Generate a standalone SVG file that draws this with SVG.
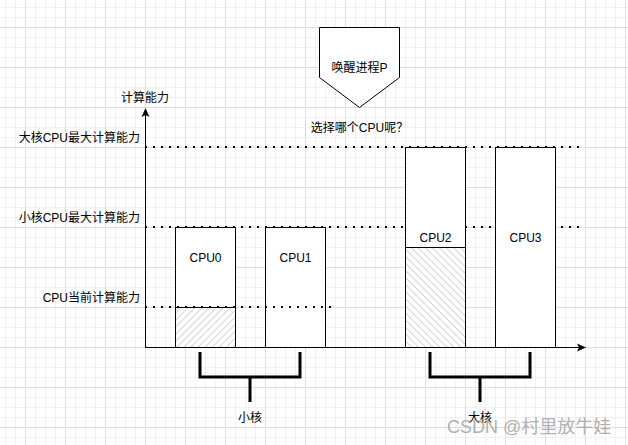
<svg xmlns="http://www.w3.org/2000/svg" width="628" height="445" viewBox="0 0 628 445">
<style>
text{font-family:"Liberation Sans","Noto Sans CJK SC",sans-serif;font-size:12px;fill:#000}
.box{fill:#fff;stroke:#000;stroke-width:1}
.dot{stroke:#000;stroke-width:2;stroke-dasharray:2 6;fill:none}
.ax{stroke:#000;stroke-width:1;fill:none}
.br{stroke:#000;stroke-width:3;fill:none}
.mid{text-anchor:middle}
.end{text-anchor:end}
</style>
<defs>
<pattern id="grid" patternUnits="userSpaceOnUse" x="-15" y="-13" width="40" height="40">
<path d="M10.5 0V40M20.5 0V40M30.5 0V40M0 10.5H40M0 20.5H40M0 30.5H40" stroke="#f1f1f1" stroke-width="1"/>
<path d="M0.5 0V40M0 0.5H40" stroke="#dfdfdf" stroke-width="1"/>
</pattern>
<pattern id="hatchA" patternUnits="userSpaceOnUse" width="5" height="5" patternTransform="rotate(45)">
<line x1="0.5" y1="0" x2="0.5" y2="5" stroke="#d4d4d4" stroke-width="1"/>
</pattern>
<pattern id="hatchB" patternUnits="userSpaceOnUse" width="5" height="5" patternTransform="rotate(-45)">
<line x1="0.5" y1="0" x2="0.5" y2="5" stroke="#d4d4d4" stroke-width="1"/>
</pattern>
</defs>
<rect width="628" height="445" fill="#fff"/>
<rect width="628" height="445" fill="url(#grid)"/>

<g id="guides-back">
<line class="dot" x1="145" y1="147" x2="581" y2="147"/>
<line class="dot" x1="145" y1="227" x2="581" y2="227"/>
</g>

<g id="cpu0">
<rect class="box" x="175.5" y="227.5" width="60" height="120"/>
<rect x="176" y="307.5" width="59" height="39.5" fill="url(#hatchA)"/>
<line x1="175.5" y1="307.5" x2="235.5" y2="307.5" stroke="#000"/>
<text class="mid" x="205.5" y="262">CPU0</text>
</g>
<g id="cpu1">
<rect class="box" x="265.5" y="227.5" width="60" height="120"/>
<text class="mid" x="295.5" y="262">CPU1</text>
</g>
<g id="cpu2">
<rect class="box" x="405.5" y="147.5" width="60" height="200"/>
<rect x="406" y="247.5" width="59" height="99.5" fill="url(#hatchB)"/>
<line x1="405.5" y1="247.5" x2="465.5" y2="247.5" stroke="#000"/>
<text class="mid" x="435.5" y="242">CPU2</text>
</g>
<g id="cpu3">
<rect class="box" x="495.5" y="147.5" width="60" height="200"/>
<text class="mid" x="525.5" y="242">CPU3</text>
</g>

<g id="guides-front">
<line class="dot" x1="145" y1="307" x2="332" y2="307"/>
</g>

<g id="connectors">
<line class="ax" x1="145.5" y1="347.5" x2="145.5" y2="114"/>
<path d="M145.5 108 L149.5 117 L145.5 115 L141.5 117 Z" fill="#000"/>
<line class="ax" x1="145" y1="347.5" x2="579" y2="347.5"/>
<path d="M586 347.5 L577 351.5 L579 347.5 L577 343.5 Z" fill="#000"/>
<path class="br" d="M200 352 V377 H300 V352 M250 377 V402"/>
<path class="br" d="M430 352 V377 H530 V352 M480 377 V402"/>
</g>

<g id="wake">
<path d="M319.5 27.5 H399.5 V77.5 L359.5 107.5 L319.5 77.5 Z" fill="#fff" stroke="#000"/>
<text class="mid" x="359.5" y="72">唤醒进程P</text>
</g>
<g id="question"><text class="mid" x="359.5" y="132">选择哪个CPU呢？</text></g>
<g id="ylabel"><text class="mid" x="145" y="102">计算能力</text></g>
<g id="lbl-big"><text class="end" x="140" y="142">大核CPU最大计算能力</text></g>
<g id="lbl-small"><text class="end" x="140" y="222">小核CPU最大计算能力</text></g>
<g id="lbl-cur"><text class="end" x="140" y="302">CPU当前计算能力</text></g>
<g id="small-core"><text class="mid" x="250" y="422">小核</text></g>
<g id="big-core"><text class="mid" x="480" y="422">大核</text></g>
<text x="447" y="433" style="font-size:18px;fill:#a6a6a6;fill-opacity:0.9">CSDN @村里放牛娃</text>
</svg>
